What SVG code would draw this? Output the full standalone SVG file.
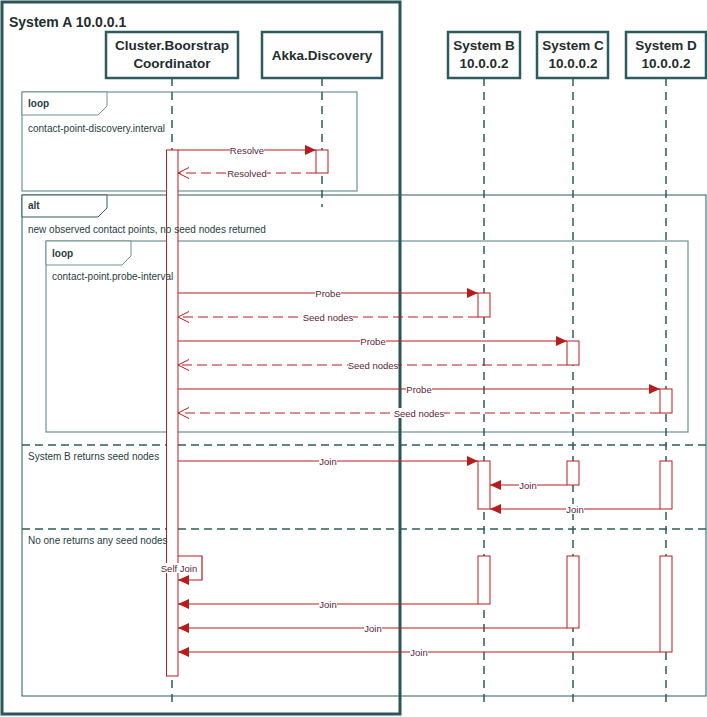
<svg xmlns="http://www.w3.org/2000/svg" width="707" height="717" viewBox="0 0 707 717">
<defs>
<style>
.frame{fill:none;stroke:#2e5c5e;stroke-width:1}
.lframe{fill:none;stroke:#6f9292;stroke-width:1.2}
.tab{fill:#fff;stroke:#6f9292;stroke-width:1}
.tabd{fill:#fff;stroke:#2e5c5e;stroke-width:1}
.sep{stroke:#2e5c5e;stroke-width:1.5;stroke-dasharray:8,5}
.life{stroke:#2e5c5e;stroke-width:1.5;stroke-dasharray:8,6}
.hbox{fill:#fff;stroke:#2e5c5e;stroke-width:2.5}
.htxt{font-family:"Liberation Sans",Arial,sans-serif;font-size:13.5px;font-weight:bold;fill:#1e2d2d;text-anchor:middle}
.ftxt{font-family:"Liberation Sans",Arial,sans-serif;font-size:10px;fill:#27403f}
.ttxt{font-family:"Liberation Sans",Arial,sans-serif;font-size:10px;font-weight:bold;fill:#27403f}
.act{fill:#fff;stroke:#b91c1c;stroke-width:1}
.msg{fill:none;stroke:#b91c1c;stroke-width:1.2}
.ret{fill:none;stroke:#b91c1c;stroke-width:1.2;stroke-dasharray:10,5}
.lbg{fill:#fff}
.ltxt{font-family:"Liberation Sans",Arial,sans-serif;font-size:9.5px;fill:#5a1e3c;text-anchor:middle}
</style>
<marker id="filled" viewBox="0 0 11 10" refX="11" refY="5" markerWidth="11" markerHeight="10" markerUnits="userSpaceOnUse" orient="auto">
<path d="M0,0 L11,5 L0,10 z" fill="#b91c1c"/>
</marker>
<marker id="open" viewBox="0 0 12 12" refX="11" refY="6" markerWidth="12" markerHeight="12" markerUnits="userSpaceOnUse" orient="auto">
<path d="M0,0.5 L11,6 L0,11.5" fill="none" stroke="#b91c1c" stroke-width="1"/>
</marker>
</defs>
<rect width="707" height="717" fill="#fff"/>

<g id="frames">
<rect class="lframe" x="22" y="92" width="335" height="99"/>
<path class="tab" d="M22,92 H107 V106 L98,115 H22 Z"/>
<rect class="frame" x="22" y="195" width="684" height="501"/>
<path class="tabd" d="M22,195 H107 V208 L98,217 H22 Z"/>
<line class="sep" x1="22" y1="445" x2="706" y2="445"/>
<line class="sep" x1="22" y1="529" x2="706" y2="529"/>
<rect class="lframe" x="46" y="241" width="642" height="191"/>
<path class="tab" d="M46,241 H131 V256 L122,265 H46 Z"/>
</g>

<g id="lifelines">
<line class="life" x1="172" y1="78" x2="172" y2="704"/>
<line class="life" x1="322" y1="78" x2="322" y2="207"/>
<line class="life" x1="484" y1="78" x2="484" y2="704"/>
<line class="life" x1="573" y1="78" x2="573" y2="704"/>
<line class="life" x1="666" y1="78" x2="666" y2="704"/>
</g>

<g id="systemA">
<rect x="2" y="2" width="398" height="712" fill="none" stroke="#2b5557" stroke-width="3"/>
<text x="9" y="27" font-family="'Liberation Sans',Arial,sans-serif" font-size="14" font-weight="bold" fill="#1e2d2d">System A 10.0.0.1</text>
</g>

<g id="coordinator">
<rect class="hbox" x="106" y="32" width="132" height="46"/>
<text class="htxt" x="172" y="50">Cluster.Boorstrap</text>
<text class="htxt" x="172" y="68">Coordinator</text>
</g>
<g id="discovery">
<rect class="hbox" x="262" y="32" width="120" height="46"/>
<text class="htxt" x="322" y="60">Akka.Discovery</text>
</g>
<g id="systemB">
<rect class="hbox" x="448" y="32" width="72" height="46"/>
<text class="htxt" x="484" y="50">System B</text>
<text class="htxt" x="484" y="68">10.0.0.2</text>
</g>
<g id="systemC">
<rect class="hbox" x="537" y="32" width="71" height="46"/>
<text class="htxt" x="573" y="50">System C</text>
<text class="htxt" x="573" y="68">10.0.0.2</text>
</g>
<g id="systemD">
<rect class="hbox" x="626" y="32" width="80" height="46"/>
<text class="htxt" x="666" y="50">System D</text>
<text class="htxt" x="666" y="68">10.0.0.2</text>
</g>

<g id="activations">
<rect class="act" x="166.5" y="150" width="11.5" height="526"/>
<rect class="act" x="316" y="150" width="12" height="23"/>
<rect class="act" x="478" y="293" width="12" height="24"/>
<rect class="act" x="567" y="341" width="12" height="24"/>
<rect class="act" x="660" y="389" width="12" height="24"/>
<rect class="act" x="478" y="461" width="12" height="48"/>
<rect class="act" x="567" y="461" width="12" height="24"/>
<rect class="act" x="660" y="461" width="12" height="48"/>
<rect class="act" x="478" y="556" width="12" height="48"/>
<rect class="act" x="567" y="556" width="12" height="72"/>
<rect class="act" x="660" y="556" width="12" height="96"/>
</g>

<g id="frame-texts">
<text class="ttxt" x="28" y="107">loop</text>
<text class="ftxt" x="28" y="132">contact-point-discovery.interval</text>
<text class="ttxt" x="28" y="209">alt</text>
<text class="ftxt" x="28" y="233">new observed contact points, no seed nodes returned</text>
<text class="ftxt" x="28" y="460">System B returns seed nodes</text>
<text class="ftxt" x="28" y="544">No one returns any seed nodes</text>
<text class="ttxt" x="52" y="257">loop</text>
<text class="ftxt" x="52" y="280">contact-point.probe-interval</text>
</g>

<g id="connectors">
<line class="msg" x1="178" y1="150" x2="316" y2="150" marker-end="url(#filled)"/>
<line class="ret" x1="316" y1="173" x2="178" y2="173" marker-end="url(#open)"/>
<line class="msg" x1="178" y1="293" x2="478" y2="293" marker-end="url(#filled)"/>
<line class="ret" x1="478" y1="317" x2="178" y2="317" marker-end="url(#open)"/>
<line class="msg" x1="178" y1="341" x2="567" y2="341" marker-end="url(#filled)"/>
<line class="ret" x1="567" y1="365" x2="178" y2="365" marker-end="url(#open)"/>
<line class="msg" x1="178" y1="389" x2="660" y2="389" marker-end="url(#filled)"/>
<line class="ret" x1="660" y1="413" x2="178" y2="413" marker-end="url(#open)"/>
<line class="msg" x1="178" y1="461" x2="478" y2="461" marker-end="url(#filled)"/>
<line class="msg" x1="567" y1="485" x2="490" y2="485" marker-end="url(#filled)"/>
<line class="msg" x1="660" y1="509" x2="490" y2="509" marker-end="url(#filled)"/>
<path class="msg" d="M178,556 H202 V580 H178" marker-end="url(#filled)"/>
<line class="msg" x1="478" y1="604" x2="178" y2="604" marker-end="url(#filled)"/>
<line class="msg" x1="567" y1="628" x2="178" y2="628" marker-end="url(#filled)"/>
<line class="msg" x1="660" y1="652" x2="178" y2="652" marker-end="url(#filled)"/>
</g>

<g id="labels">
<rect class="lbg" x="230" y="145" width="34" height="10"/><text class="ltxt" x="247" y="153.5">Resolve</text>
<rect class="lbg" x="227" y="168" width="40" height="10"/><text class="ltxt" x="247" y="176.5">Resolved</text>
<rect class="lbg" x="315" y="288" width="26" height="10"/><text class="ltxt" x="328" y="296.5">Probe</text>
<rect class="lbg" x="303" y="312" width="50" height="10"/><text class="ltxt" x="328" y="320.5">Seed nodes</text>
<rect class="lbg" x="360" y="336" width="26" height="10"/><text class="ltxt" x="373" y="344.5">Probe</text>
<rect class="lbg" x="348" y="360" width="50" height="10"/><text class="ltxt" x="373" y="368.5">Seed nodes</text>
<rect class="lbg" x="406" y="384" width="26" height="10"/><text class="ltxt" x="419" y="392.5">Probe</text>
<rect class="lbg" x="394" y="408" width="50" height="10"/><text class="ltxt" x="419" y="416.5">Seed nodes</text>
<rect class="lbg" x="319" y="456" width="18" height="10"/><text class="ltxt" x="328" y="464.5">Join</text>
<rect class="lbg" x="519" y="480" width="18" height="10"/><text class="ltxt" x="528" y="488.5">Join</text>
<rect class="lbg" x="566" y="504" width="18" height="10"/><text class="ltxt" x="575" y="512.5">Join</text>
<rect class="lbg" x="161" y="563" width="36" height="10"/><text class="ltxt" x="179" y="571.5">Self Join</text>
<rect class="lbg" x="319" y="599" width="18" height="10"/><text class="ltxt" x="328" y="607.5">Join</text>
<rect class="lbg" x="364" y="623" width="18" height="10"/><text class="ltxt" x="373" y="631.5">Join</text>
<rect class="lbg" x="410" y="647" width="18" height="10"/><text class="ltxt" x="419" y="655.5">Join</text>
</g>
</svg>
